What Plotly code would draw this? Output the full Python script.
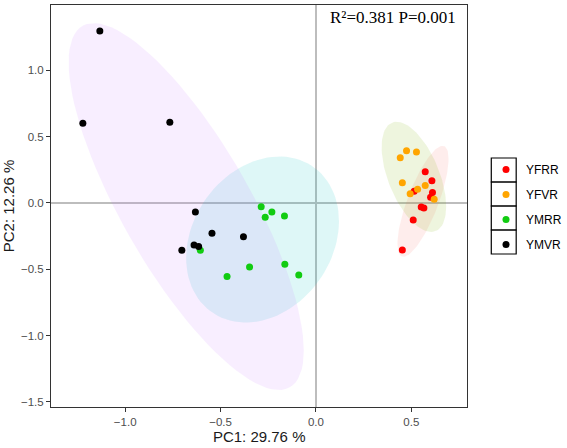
import numpy as np
import plotly.graph_objects as go

groups = ["YFRR", "YFVR", "YMRR", "YMVR"]
point_colors = ["#FF0000", "#FFA500", "#11CC11", "#000000"]
ellipse_colors = ["rgba(248,118,109,0.13)", "rgba(124,174,0,0.13)",
                  "rgba(0,191,196,0.13)", "rgba(199,124,255,0.13)"]

yfrr_pc1 = [0.573, 0.608, 0.515, 0.611, 0.601, 0.552, 0.566, 0.510, 0.453]
yfrr_pc2 = [0.236, 0.168, 0.088, 0.078, 0.043, -0.030, -0.038, -0.128, -0.354]
yfvr_pc1 = [0.475, 0.527, 0.442, 0.453, 0.573, 0.533, 0.494, 0.620]
yfvr_pc2 = [0.394, 0.384, 0.341, 0.153, 0.131, 0.103, 0.070, 0.028]
ymrr_pc1 = [-0.287, -0.231, -0.266, -0.165, -0.606, -0.163, -0.348, -0.090, -0.466]
ymrr_pc2 = [-0.028, -0.068, -0.108, -0.098, -0.357, -0.462, -0.482, -0.543, -0.555]
ymvr_pc1 = [-1.133, -1.222, -0.766, -0.632, -0.545, -0.380, -0.639, -0.615, -0.703]
ymvr_pc2 = [1.296, 0.600, 0.608, -0.068, -0.229, -0.254, -0.317, -0.329, -0.357]

data_x = [yfrr_pc1, yfvr_pc1, ymrr_pc1, ymvr_pc1]
data_y = [yfrr_pc2, yfvr_pc2, ymrr_pc2, ymvr_pc2]

x_ticks = [-1.0, -0.5, 0.0, 0.5]
y_ticks = [-1.5, -1.0, -0.5, 0.0, 0.5, 1.0]
annot_text = "R²=0.381 P=0.001"


def cov_trob(pts, nu=5, maxit=25, tol=0.01):
    # port of MASS::cov.trob (multivariate t estimate)
    n, p = pts.shape
    wt = np.ones(n)
    loc = pts.mean(axis=0)
    w = np.sqrt(wt)
    X = pts - loc
    for _ in range(maxit):
        w0 = w
        X = pts - loc
        A = np.sqrt(w / w.sum())[:, None] * X
        _, d, vt = np.linalg.svd(A, full_matrices=False)
        wX = X @ vt.T @ np.diag(1.0 / d)
        Q = (wX ** 2).sum(axis=1)
        w = (wt * (nu + p)) / (nu + Q)
        loc = (w[:, None] * pts).sum(axis=0) / w.sum()
        if np.all(np.abs(w - w0) < tol):
            break
    cov = (np.sqrt(w)[:, None] * X).T @ (np.sqrt(w)[:, None] * X) / wt.sum()
    return loc, cov


def ellipse(x, y, level=0.95, segments=100):
    pts = np.column_stack([x, y])
    n = len(pts)
    center, shape = cov_trob(pts)
    chol = np.linalg.cholesky(shape).T  # upper triangular like R chol()
    d = n - 1
    fq = d / 2.0 * ((1 - level) ** (-2.0 / d) - 1)  # qf(level, 2, d)
    r = np.sqrt(2 * fq)
    t = np.linspace(0, 2 * np.pi, segments + 1)
    circ = np.column_stack([np.cos(t), np.sin(t)])
    e = center + r * (circ @ chol)
    return e[:, 0], e[:, 1]


fig = go.Figure()
for g, xs, ys, ec in zip(groups, data_x, data_y, ellipse_colors):
    ex, ey = ellipse(xs, ys)
    fig.add_trace(go.Scatter(x=ex, y=ey, mode="lines", fill="toself",
                             fillcolor=ec, line=dict(width=0),
                             showlegend=False, hoverinfo="skip"))

for i, (g, xs, ys, pc) in enumerate(zip(groups, data_x, data_y, point_colors)):
    fig.add_trace(go.Scatter(x=xs, y=ys, mode="markers", name=g,
                             legendgroup=g,
                             marker=dict(color=pc, size=7, line=dict(width=0))))

PAPER_W = 516.0
PLOT_W = 418.0
PLOT_H = 402.0

axis_common = dict(showgrid=False, showline=True, mirror=True, linecolor="#333333",
                   linewidth=1, ticks="outside", ticklen=4, tickcolor="#333333",
                   tickfont=dict(family="Arial, Liberation Sans", size=11.5, color="#4D4D4D"),
                   zeroline=True, zerolinecolor="#BDBDBD", zerolinewidth=1.5,
                   tickformat=".1f")

fig.update_xaxes(range=[-1.389, 0.794], tickvals=x_ticks, domain=[0, PLOT_W / PAPER_W],
                 title=dict(text="PC1: 29.76 %", standoff=4,
                            font=dict(family="Arial, Liberation Sans", size=15, color="#1a1a1a")),
                 **axis_common)
fig.update_yaxes(range=[-1.538, 1.492], tickvals=y_ticks,
                 title=dict(text="PC2: 12.26 %", standoff=3,
                            font=dict(family="Arial, Liberation Sans", size=15, color="#1a1a1a")),
                 **axis_common)

# legend key boxes
box_x0 = (493 - 51) / PAPER_W
box_x1 = (518 - 51) / PAPER_W
edges = [158, 182, 206, 230, 254]
for k in range(4):
    fig.add_shape(type="rect", xref="paper", yref="paper",
                  x0=box_x0, x1=box_x1,
                  y0=(407 - edges[k + 1]) / PLOT_H, y1=(407 - edges[k]) / PLOT_H,
                  line=dict(color="#000000", width=1.2), fillcolor="rgba(0,0,0,0)")

fig.add_annotation(text=annot_text, xref="x", yref="paper", x=0.745, y=0.998,
                   xanchor="right", yanchor="top", showarrow=False,
                   font=dict(family="Liberation Serif, Times New Roman", size=17, color="#000000"))

fig.update_layout(
    width=567, height=448,
    margin=dict(l=51, r=0, t=5, b=41),
    plot_bgcolor="white", paper_bgcolor="white",
    legend=dict(x=(488 - 51) / PAPER_W, y=0.627, xanchor="left", yanchor="top",
                font=dict(family="Arial, Liberation Sans", size=12, color="#000000"),
                tracegroupgap=6, itemsizing="trace", bgcolor="rgba(0,0,0,0)"),
)

fig.write_html("out.html")
